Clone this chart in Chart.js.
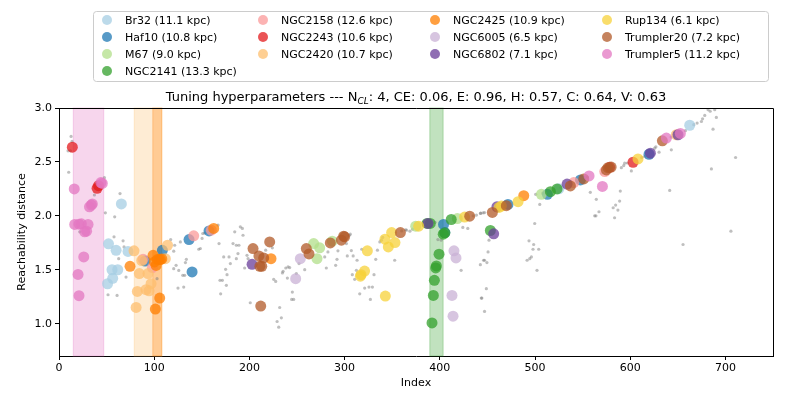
<!DOCTYPE html>
<html>
<head>
<meta charset="utf-8">
<script src="https://cdn.jsdelivr.net/npm/chart.js@4.4.1/dist/chart.umd.min.js"></script>
<style>
  html, body { margin: 0; padding: 0; background: #fff; }
  #wrap { width: 789px; height: 395px; position: relative; }
</style>
</head>
<body>
<div id="wrap"><canvas id="c" width="789" height="395"></canvas></div>
<script>
// ---------------- DATA ----------------
const clusterNames = ['Br32','Haf10','M67','NGC2141','NGC2158','NGC2243','NGC2420','NGC2425','NGC6005','NGC6802','Rup134','Trumpler20','Trumpler5'];
const clusterDist  = ['11.1','10.8','9.0','13.3','12.6','10.6','10.7','10.9','6.5','7.1','6.1','7.2','11.2'];
const clusterColors = ['#a6cee3','#1f78b4','#b2df8a','#33a02c','#fb9a99','#e31a1c','#fdbf6f','#ff7f00','#cab2d6','#6a3d9a','#f7d23a','#b15928','#e377c2'];

const br32 = [[65.5,2.11],[52,1.74],[60,1.68],[72.5,1.67],[55.7,1.50],[61.7,1.50],[56.4,1.42],[51,1.37],[525,2.25],[662.5,2.84]];
const haf10 = [[90.4,1.58],[108.6,1.68],[136.6,1.78],[139.8,1.48],[157.6,1.86],[403.9,1.92],[405.3,1.845],[471.6,2.106],[513,2.199],[547.7,2.333],[619.8,2.571]];
const m67 = [[267.5,1.743],[273.8,1.703],[271,1.603],[287,1.765],[374.7,1.904],[418.4,1.975],[506.7,2.199]];
const ngc2141 = [[386.6,1.929],[390,1.929],[399.2,1.644],[396.4,1.535],[395.7,1.517],[394.3,1.402],[393.2,1.262],[391.8,1.007],[403.6,1.83],[405.3,1.842],[412,1.966],[453.1,1.864],[516.2,2.224],[523.2,2.249]];
const ngc2158 = [[88.3,1.597],[98.1,1.52],[141.5,1.815],[160,1.867],[540.7,2.308],[573.3,2.41]];
const ngc2243 = [[14,2.637],[40,2.255],[41.5,2.28],[603,2.497],[578.4,2.45]];
const ngc2420 = [[78.8,1.675],[86.9,1.585],[84.4,1.464],[93.5,1.464],[96.7,1.371],[82.3,1.299],[91.4,1.315],[94.6,1.305],[81,1.15],[114,1.727],[111.7,1.603],[648.5,2.752]];
const ngc2425 = [[74.6,1.532],[98.8,1.634],[100.2,1.572],[102,1.54],[103.3,1.594],[105,1.594],[106.5,1.594],[108,1.6],[105.8,1.237],[101.2,1.135],[162.5,1.883],[222.7,1.603],[488.2,2.187]];
const ngc6005 = [[253.5,1.603],[248.6,1.417],[414.9,1.675],[417,1.61],[412.8,1.262],[413.9,1.069]];
const ngc6802 = [[202.8,1.55],[387.6,1.929],[456.6,1.833],[460,2.084],[533.7,2.295],[621.2,2.581],[650.2,2.752]];
const rup134 = [[323.9,1.675],[317.3,1.454],[321,1.488],[316.6,1.44],[342.8,1.256],[342.4,1.783],[349.4,1.845],[345.9,1.712],[352.9,1.752],[377.8,1.904],[426.1,1.988],[462.2,2.078],[464.7,2.09],[482.2,2.131],[608.2,2.528]];
const trumpler20 = [[203.8,1.696],[221.3,1.758],[210,1.628],[215,1.61],[213,1.532],[211,1.532],[211.9,1.163],[259.8,1.696],[262.6,1.647],[285,1.749],[296.6,1.774],[299,1.811],[300,1.805],[358.6,1.845],[431.4,1.997],[455.2,2.031],[469.9,2.094],[537.2,2.277],[551.2,2.342],[575,2.426],[576.7,2.447],[580,2.452],[633.8,2.696]];
const trumpler5 = [[16,2.249],[44,2.308],[45.5,2.30],[32,2.084],[35,2.11],[34,2.10],[16.5,1.92],[21,1.923],[23.5,1.926],[30.5,1.92],[27,1.852],[29,1.858],[26,1.619],[20,1.457],[21,1.259],[556.8,2.37],[570.8,2.273],[638,2.721],[652.7,2.764]];

const noisePoints = [[9.5,2.603],[12,2.603],[12.7,2.736],[13.7,2.69],[10.2,2.404],[47.7,2.354],[37.2,2.193],[64.1,2.206],[48.7,2.028],[58.5,1.991],[21.8,1.852],[57.8,1.805],[67.3,1.768],[68.3,1.712],[62.7,1.603],[70.4,1.432],[51.5,1.268],[61,1.262],[103,1.417],[117.3,1.78],[121.5,1.727],[120.5,1.672],[127.5,1.758],[133.8,1.597],[132.8,1.566],[123,1.541],[125.8,1.494],[120.5,1.51],[130,1.448],[132,1.448],[125,1.33],[131,1.339],[146.8,1.69],[148.5,1.697],[151,1.836],[150.3,1.79],[153,1.84],[167.1,1.914],[168.1,1.743],[173,1.619],[178.6,1.619],[180,1.557],[175,1.504],[176.5,1.454],[169.1,1.402],[171.6,1.402],[175.8,1.355],[169.8,1.277],[184.6,1.852],[190.5,1.898],[192.6,1.883],[193.3,1.82],[182.8,1.743],[186.3,1.727],[189,1.727],[188,1.65],[186.3,1.603],[197.5,1.634],[198.6,1.603],[195,1.516],[200.9,1.194],[224.1,1.703],[217.1,1.681],[225.5,1.411],[227.6,1.392],[235.4,1.485],[238.2,1.516],[240.6,1.526],[242.3,1.52],[239.9,1.423],[234.7,1.47],[245.1,1.293],[244.4,1.225],[246.5,1.225],[231.8,1.15],[233.6,1.054],[229.1,1.02],[230.8,0.967],[249.3,1.464],[252.1,1.557],[258.1,1.501],[279.1,1.619],[280.8,1.516],[290.6,1.541],[292,1.597],[293,1.675],[282.5,1.665],[301.9,1.743],[307.1,1.678],[302.8,1.628],[309,1.628],[313.1,1.588],[310.6,1.411],[308.1,1.454],[312.4,1.495],[315.9,1.277],[321.1,1.33],[325.6,1.339],[329.2,1.339],[327.1,1.225],[330.9,1.454],[332.7,1.597],[334.5,1.681],[352.6,1.588],[337,1.758],[338.7,1.774],[365.1,1.867],[368.6,1.858],[371.4,1.876],[401.4,1.774],[422.4,1.495],[424.2,1.892],[429.4,1.883],[435,2.0],[438.5,2.007],[442.7,2.022],[445.5,2.028],[447,1.588],[444.2,1.237],[447,1.113],[451.7,1.774],[450.7,1.665],[446,1.588],[449.5,1.566],[442.6,1.547],[448.9,1.324],[443.6,1.237],[505,2.106],[500.7,2.199],[499.7,1.929],[493.7,1.768],[498.6,1.734],[497.9,1.69],[503.9,1.69],[496.2,1.619],[494.5,1.603],[491.7,1.588],[502.1,1.495],[558.1,2.218],[564.4,2.153],[562.7,2.0],[564,2.0],[567.2,2.038],[583.6,1.982],[584.7,2.1],[587.1,2.053],[582.1,2.075],[588.9,2.137],[589.6,2.23],[570.3,2.395],[590.7,2.447],[593.2,2.466],[594.2,2.488],[597,2.49],[601.2,2.416],[625.7,2.627],[630.3,2.59],[643.2,2.612],[641.5,2.236],[655.5,1.734],[685.3,2.435],[687,2.804],[690.5,2.913],[688.8,2.984],[681.8,2.984],[678.3,2.931],[674.8,2.875],[670.3,2.86],[666.8,2.845],[710.7,2.541],[705.8,1.858],[612,2.54],[615,2.55],[627,2.64],[643,2.73],[658,2.79],[676,2.9],[684,2.97],[447,2.03],[443,2.025],[398,1.78],[395,1.94],[305,1.82],[306,1.83],[318,1.69],[340,1.80],[360,1.86],[364,1.87],[383,1.91],[508,2.21],[527,2.26],[545,2.32],[555,2.36]];

// shaded index ranges: [start, end, cluster index]
const spanStart = [15, 79, 98.5, 389.5];
const spanEnd   = [47, 108, 108, 403.5];
const spanCluster = [12, 6, 7, 3];

const xTicks = [0,100,200,300,400,500,600,700];
const yTicks = [1.0,1.5,2.0,2.5,3.0];
const titleParts = ['Tuning hyperparameters --- N', 'CL', ': 4, CE: 0.06, E: 0.96, H: 0.57, C: 0.64, V: 0.63'];

const clusterPoints = [br32,haf10,m67,ngc2141,ngc2158,ngc2243,ngc2420,ngc2425,ngc6005,ngc6802,rup134,trumpler20,trumpler5];

// ---------------- HELPERS ----------------
function rgba(hex, a) {
  const n = parseInt(hex.slice(1), 16);
  return `rgba(${(n>>16)&255},${(n>>8)&255},${n&255},${a})`;
}
const FONT = "'DejaVu Sans', sans-serif";

const datasets = [{
  label: 'noise',
  data: noisePoints.map(p => ({x: p[0], y: p[1]})),
  pointRadius: 1.6,
  pointBackgroundColor: 'rgba(128,128,128,0.5)',
  pointBorderWidth: 0,
  order: 100
}];
clusterPoints.forEach((pts, i) => {
  datasets.push({
    label: clusterNames[i] + ' (' + clusterDist[i] + ' kpc)',
    data: pts.map(p => ({x: p[0], y: p[1]})),
    pointRadius: 5.5,
    pointBackgroundColor: rgba(clusterColors[i], 0.75),
    pointBorderWidth: 0,
    order: 50 - i
  });
});

const spansPlugin = {
  id: 'spans',
  beforeDatasetsDraw(chart) {
    const {ctx, chartArea, scales} = chart;
    ctx.save();
    for (let k = 0; k < spanStart.length; k++) {
      const x1 = scales.x.getPixelForValue(spanStart[k]);
      const x2 = scales.x.getPixelForValue(spanEnd[k]);
      const col = clusterColors[spanCluster[k]];
      ctx.fillStyle = rgba(col, 0.3);
      ctx.fillRect(x1, chartArea.top, x2 - x1, chartArea.bottom - chartArea.top);
      ctx.strokeStyle = rgba(col, 0.3);
      ctx.lineWidth = 1;
      ctx.strokeRect(x1, chartArea.top, x2 - x1, chartArea.bottom - chartArea.top);
    }
    ctx.restore();
  },
  afterDraw(chart) {
    const {ctx, chartArea} = chart;
    ctx.save();
    // frame top & right
    ctx.strokeStyle = '#000';
    ctx.lineWidth = 1;
    ctx.beginPath();
    ctx.moveTo(chartArea.left, chartArea.top + 0.5);
    ctx.lineTo(chartArea.right + 0.5, chartArea.top + 0.5);
    ctx.lineTo(chartArea.right + 0.5, chartArea.bottom);
    ctx.stroke();

    // title with subscript
    const big = "13px " + FONT;
    const small = "italic 9px " + FONT;
    ctx.fillStyle = '#000';
    ctx.textBaseline = 'alphabetic';
    ctx.font = big; const w1 = ctx.measureText(titleParts[0]).width;
    ctx.font = small; const w2 = ctx.measureText(titleParts[1]).width;
    ctx.font = big; const w3 = ctx.measureText(titleParts[2]).width;
    const total = w1 + w2 + w3;
    let tx = (chartArea.left + chartArea.right) / 2 - total / 2;
    const ty = 101;
    ctx.textAlign = 'left';
    ctx.font = big; ctx.fillText(titleParts[0], tx, ty); tx += w1;
    ctx.font = small; ctx.fillText(titleParts[1], tx, ty + 3); tx += w2;
    ctx.font = big; ctx.fillText(titleParts[2], tx, ty);

    // legend
    const bx = 93, by = 11, bw = 675, bh = 70;
    ctx.fillStyle = 'rgba(255,255,255,0.8)';
    ctx.strokeStyle = '#cccccc';
    ctx.lineWidth = 1;
    ctx.beginPath();
    ctx.roundRect(bx + 0.5, by + 0.5, bw, bh, 3);
    ctx.fill(); ctx.stroke();
    const colX = [107, 263, 435, 607];
    const rowY = [20, 37, 54, 71];
    ctx.font = "11px " + FONT;
    ctx.textBaseline = 'middle';
    for (let i = 0; i < clusterNames.length; i++) {
      let col, row;
      if (i < 4) { col = 0; row = i; } else { col = 1 + Math.floor((i - 4) / 3); row = (i - 4) % 3; }
      const mx = colX[col], my = rowY[row];
      ctx.fillStyle = rgba(clusterColors[i], 0.75);
      ctx.beginPath(); ctx.arc(mx, my, 5, 0, Math.PI * 2); ctx.fill();
      ctx.fillStyle = '#000';
      ctx.fillText(clusterNames[i] + ' (' + clusterDist[i] + ' kpc)', mx + 18, my + 1);
    }
    ctx.restore();
  }
};

new Chart(document.getElementById('c'), {
  type: 'scatter',
  data: { datasets },
  options: {
    responsive: false,
    animation: false,
    devicePixelRatio: 1,
    layout: { padding: { top: 108, right: 16, left: 0, bottom: 0 } },
    plugins: { legend: { display: false }, title: { display: false }, tooltip: { enabled: false } },
    scales: {
      x: {
        type: 'linear', min: 0, max: 750,
        afterFit(s) { s.height = 39; },
        afterBuildTicks(s) { s.ticks = xTicks.map(v => ({value: v})); },
        grid: { display: true, drawOnChartArea: false, drawTicks: true, tickLength: 4, color: '#000' },
        border: { display: true, color: '#000', width: 1 },
        ticks: { color: '#000', font: { family: FONT, size: 11 }, padding: 2, maxRotation: 0, autoSkip: false },
        title: { display: true, text: 'Index', color: '#000', font: { family: FONT, size: 11 }, padding: { bottom: 5 } }
      },
      y: {
        type: 'linear', min: 0.7, max: 3.0,
        afterFit(s) { s.width = 59; },
        afterBuildTicks(s) { s.ticks = yTicks.map(v => ({value: v})); },
        grid: { display: true, drawOnChartArea: false, drawTicks: true, tickLength: 4, color: '#000' },
        border: { display: true, color: '#000', width: 1 },
        ticks: { color: '#000', font: { family: FONT, size: 11 }, padding: 3, autoSkip: false,
                 callback: v => Number(v).toFixed(1) },
        title: { display: true, text: 'Reachability distance', color: '#000', font: { family: FONT, size: 11 }, padding: { top: 16 } }
      }
    }
  },
  plugins: [spansPlugin]
});
</script>
</body>
</html>
